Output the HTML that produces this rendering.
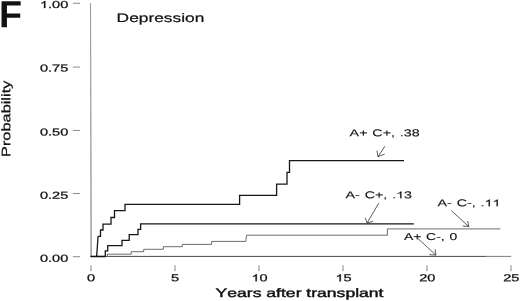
<!DOCTYPE html>
<html>
<head>
<meta charset="utf-8">
<title>Depression</title>
<style>
html,body{margin:0;padding:0;background:#fff;}
body{width:520px;height:301px;overflow:hidden;}
svg{display:block;filter:grayscale(1);}
text{font-family:"Liberation Sans",sans-serif;fill:#111;font-kerning:none;white-space:pre;}
</style>
</head>
<body>
<svg width="520" height="301" viewBox="0 0 520 301">
<rect x="0" y="0" width="520" height="301" fill="#fff"/>

<polygon points="89.95,3 91.05,3 91.95,256.5 90.35,256.5" fill="#a0a0a0"/>
<g stroke="#8e8e8e" stroke-width="1">
<line x1="72.9" y1="3.3" x2="80" y2="3.3"/>
<line x1="72.9" y1="67.1" x2="80" y2="67.1"/>
<line x1="72.9" y1="130.4" x2="80" y2="130.4"/>
<line x1="72.9" y1="193.5" x2="80" y2="193.5"/>
<line x1="72.9" y1="256.7" x2="80" y2="256.7"/>
</g>
<g stroke="#8c8c8c" stroke-width="1.05">
<line x1="91" y1="265.3" x2="91" y2="271.3"/>
<line x1="175" y1="265.3" x2="175" y2="271.3"/>
<line x1="259" y1="265.3" x2="259" y2="271.3"/>
<line x1="343" y1="265.3" x2="343" y2="271.3"/>
<line x1="427" y1="265.3" x2="427" y2="271.3"/>
<line x1="511" y1="265.3" x2="511" y2="271.3"/>
</g>
<line x1="90.5" y1="256.4" x2="486" y2="256.4" stroke="#333" stroke-width="0.9"/>
<line x1="486" y1="256.4" x2="511.2" y2="256.4" stroke="#5a5a5a" stroke-width="0.8"/>
<line x1="90.5" y1="256.5" x2="105.5" y2="256.5" stroke="#111" stroke-width="1.5"/>
<path d="M107.4,256.5 V254.2 H131.2 V251.7 H143.7 V249.3 H163.4 V246.7 H182.3 V244.4 H211.6 V241.4 H245.8 L246.5,235.2 H387.4 V228.9 H500.3" fill="none" stroke="#555" stroke-width="0.85"/>
<path d="M105.3,256.5 V250.9 H107.7 V245.6 H122 V240.3 H129.2 V234.7 H138 V229.4 H140.6 V223.8 H413.8" fill="none" stroke="#161616" stroke-width="1.3"/>
<path d="M96.6,256.5 L97.2,249 L98,237 L98.3,236.4 H100.5 V230 H103 V224.2 H111 V217.5 H114.5 V210.6 H125 V204.3 H239.6 V195.4 H276.6 V184.2 H287 V172.4 H289.5 V160.7 H404" fill="none" stroke="#161616" stroke-width="1.3"/>
<g fill="none" stroke="#333" stroke-width="0.8">
<path d="M384.9,146.2 L378,156.8 M377,150.6 L378,156.8 L384.7,154"/>
<path d="M378.8,203.1 L367.1,222.9 M365.2,217.8 L367.1,222.9 L373,221.4"/>
<path d="M451.4,210.7 L468.8,226.6 M467.7,221 L468.8,226.6 L462.7,225.9"/>
<path d="M418,238.6 L435.9,255.1 M435.1,249.3 L435.9,255.1 L429.3,254.6"/>
</g>
<text transform="translate(-1.1,27.2) rotate(0.03) scale(1.0,1)" font-size="37.7" font-weight="bold">F</text>
<text transform="translate(116.6,21.9) rotate(0.03) scale(1.4,1)" font-size="12.4" stroke="#111" stroke-width="0.2">Depression</text>
<g transform="translate(39.9,8.0) rotate(0.03) scale(1.43,1)" font-size="10.2" stroke="#111" stroke-width="0.25"><path transform="translate(0.00,0) scale(0.00498,-0.00476)" d="M763 0H583V1147Q518 1085 412.5 1023T223 930V1104Q373 1174.5 485 1275T644 1470H763Z" fill="#111" stroke-width="50.2"/><text x="5.67" y="0">.00</text></g>
<text transform="translate(39.9,71.5) rotate(0.03) scale(1.43,1)" font-size="10.2" stroke="#111" stroke-width="0.25">0.75</text>
<text transform="translate(39.9,135.5) rotate(0.03) scale(1.43,1)" font-size="10.2" stroke="#111" stroke-width="0.25">0.50</text>
<text transform="translate(39.9,198.7) rotate(0.03) scale(1.43,1)" font-size="10.2" stroke="#111" stroke-width="0.25">0.25</text>
<text transform="translate(39.9,261.7) rotate(0.03) scale(1.43,1)" font-size="10.2" stroke="#111" stroke-width="0.25">0.00</text>
<text transform="translate(91,281.35) rotate(0.03) scale(1.43,1)" font-size="10.2" text-anchor="middle" stroke="#111" stroke-width="0.25">0</text>
<text transform="translate(175,281.35) rotate(0.03) scale(1.43,1)" font-size="10.2" text-anchor="middle" stroke="#111" stroke-width="0.25">5</text>
<g transform="translate(259.5,281.35) rotate(0.03) scale(1.43,1)" font-size="10.2" stroke="#111" stroke-width="0.25"><path transform="translate(-5.67,0) scale(0.00498,-0.00476)" d="M763 0H583V1147Q518 1085 412.5 1023T223 930V1104Q373 1174.5 485 1275T644 1470H763Z" fill="#111" stroke-width="50.2"/><text x="0.00" y="0">0</text></g>
<g transform="translate(343.5,281.35) rotate(0.03) scale(1.43,1)" font-size="10.2" stroke="#111" stroke-width="0.25"><path transform="translate(-5.67,0) scale(0.00498,-0.00476)" d="M763 0H583V1147Q518 1085 412.5 1023T223 930V1104Q373 1174.5 485 1275T644 1470H763Z" fill="#111" stroke-width="50.2"/><text x="0.00" y="0">5</text></g>
<text transform="translate(427.3,281.35) rotate(0.03) scale(1.43,1)" font-size="10.2" text-anchor="middle" stroke="#111" stroke-width="0.25">20</text>
<text transform="translate(511.3,281.35) rotate(0.03) scale(1.43,1)" font-size="10.2" text-anchor="middle" stroke="#111" stroke-width="0.25">25</text>
<text transform="translate(215.6,296.9) rotate(0.03) scale(1.428,1)" font-size="12.3" stroke="#111" stroke-width="0.4">Years after transplant</text>
<text transform="translate(10.2,157.0) rotate(-90.03) scale(1.33,1)" font-size="12.3" stroke="#111" stroke-width="0.25">Probability</text>
<text transform="translate(349.6,136.2) rotate(0.03) scale(1.445,1)" font-size="9.9" stroke="#111" stroke-width="0.12" word-spacing="0.6">A+ C+, .38</text>
<g transform="translate(345.5,198.3) rotate(0.03) scale(1.445,1)" font-size="9.9" stroke="#111" stroke-width="0.12" word-spacing="0.6"><text x="0.00" y="0">A- C+, .</text><path transform="translate(35.03,0) scale(0.00483,-0.00462)" d="M763 0H583V1147Q518 1085 412.5 1023T223 930V1104Q373 1174.5 485 1275T644 1470H763Z" fill="#111" stroke-width="24.8"/><text x="40.54" y="0">3</text></g>
<g transform="translate(437.5,206.2) rotate(0.03) scale(1.445,1)" font-size="9.9" stroke="#111" stroke-width="0.12" word-spacing="0.6"><text x="0.00" y="0">A- C-, .</text><path transform="translate(32.55,0) scale(0.00483,-0.00462)" d="M763 0H583V1147Q518 1085 412.5 1023T223 930V1104Q373 1174.5 485 1275T644 1470H763Z" fill="#111" stroke-width="24.8"/><path transform="translate(38.05,0) scale(0.00483,-0.00462)" d="M763 0H583V1147Q518 1085 412.5 1023T223 930V1104Q373 1174.5 485 1275T644 1470H763Z" fill="#111" stroke-width="24.8"/></g>
<text transform="translate(403.9,239.9) rotate(0.03) scale(1.41,1)" font-size="9.9" stroke="#111" stroke-width="0.12" word-spacing="0.6">A+ C-, 0</text>
</svg>
</body>
</html>
